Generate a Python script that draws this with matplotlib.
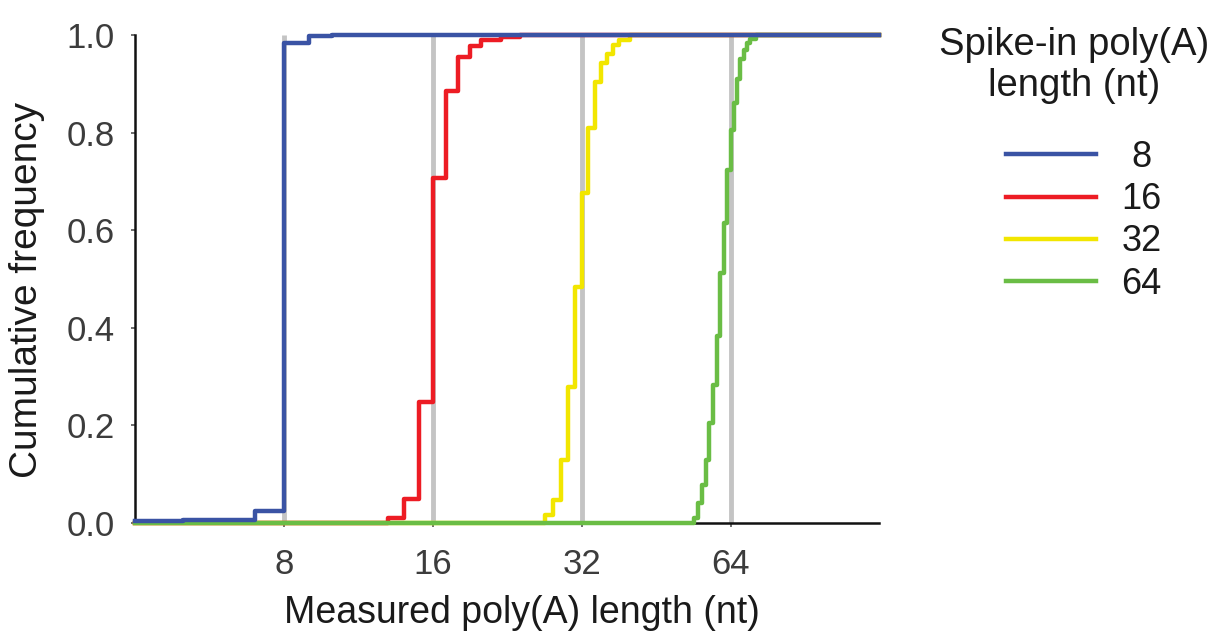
import matplotlib.pyplot as plt
from matplotlib.lines import Line2D

plt.rcParams['font.family'] = ['Liberation Sans', 'DejaVu Sans']

# comprimentos medidos (nt) e frequencia acumulada de cada spike-in
len_8 = [4, 5, 6, 7, 8, 9, 10, 128]
freq_8 = [0.003, 0.005, 0.006, 0.023, 0.984, 0.998, 1.0, 1.0]

len_16 = [4, 13, 14, 15, 16, 17, 18, 19, 20, 22, 24, 128]
freq_16 = [0.0, 0.01, 0.049, 0.247, 0.706, 0.885, 0.956, 0.977, 0.99, 0.996, 1.0, 1.0]

len_32 = [4, 27, 28, 29, 30, 31, 32, 33, 34, 35, 36, 37, 38, 40, 128]
freq_32 = [0.0, 0.015, 0.047, 0.129, 0.279, 0.484, 0.676, 0.809, 0.904,
           0.942, 0.962, 0.98, 0.99, 1.0, 1.0]

len_64 = [4, 54, 55, 56, 57, 58, 59, 60, 61, 62, 63, 64, 65, 66, 67, 68,
          69, 70, 72, 128]
freq_64 = [0.0, 0.01, 0.04, 0.078, 0.129, 0.204, 0.283, 0.382, 0.512, 0.614,
           0.723, 0.805, 0.86, 0.911, 0.952, 0.969, 0.983, 0.993, 1.0, 1.0]

spike_ins = [8, 16, 32, 64]
rotulos = ["8", "16", "32", "64"]
cores = ["#3a53a4", "#ed1c24", "#f2e600", "#6abd45"]

fig = plt.figure(figsize=(12.08, 6.39), dpi=100)
ax = fig.add_axes([0.112, 0.182, 0.616, 0.763])

# linhas verticais cinzas nos comprimentos esperados
ax.vlines(spike_ins, 0, 1, color="#c4c4c4", lw=3.5, zorder=1)

series = {
    "8": (len_8, freq_8),
    "16": (len_16, freq_16),
    "32": (len_32, freq_32),
    "64": (len_64, freq_64),
}
# ordem de desenho: azul por cima de todas
ordem = ["32", "16", "64", "8"]
for z, rot in enumerate(ordem):
    i = rotulos.index(rot)
    x, y = series[rot]
    ax.step(x, y, where="post", color=cores[i], lw=3.2, zorder=3 + z,
            clip_on=False)

ax.set_xscale("log", base=2)
ax.set_xlim(4, 128)
ax.set_ylim(0, 1.0)
ax.set_xticks(spike_ins)
ax.set_xticklabels(rotulos)
ax.minorticks_off()
ax.set_yticks([0, 0.2, 0.4, 0.6, 0.8, 1.0])
ax.set_yticklabels(["0.0", "0.2", "0.4", "0.6", "0.8", "1.0"])

for lado in ["top", "right"]:
    ax.spines[lado].set_visible(False)
for lado in ["left", "bottom"]:
    ax.spines[lado].set_linewidth(1.8)
    ax.spines[lado].set_color("#111111")

ax.tick_params(axis="both", direction="out", length=3, width=1.2,
               labelsize=25, labelcolor="#3c3c3c", colors="#555555")
ax.tick_params(axis="y", pad=12)
ax.tick_params(axis="x", pad=15)

ax.set_xlabel("Measured poly(A) length (nt)", fontsize=27, color="#1a1a1a")
ax.set_ylabel("Cumulative frequency", fontsize=28, color="#1a1a1a")
ax.xaxis.set_label_coords(0.52, -0.149)
ax.yaxis.set_label_coords(-0.122, 0.477)

# legenda
fig.text(0.889, 0.957, "Spike-in poly(A)\nlength (nt)", ha="center", va="top",
         fontsize=27.5, color="#1a1a1a", linespacing=1.15)
handles = [Line2D([0], [0], color=c, lw=3.2) for c in cores]
leg_rotulos = [" 8", "16", "32", "64"]
leg = fig.legend(handles, leg_rotulos, loc="upper left",
                 bbox_to_anchor=(0.8328, 0.781), frameon=False, fontsize=26,
                 handlelength=2.5, handletextpad=0.7, labelspacing=0.2,
                 borderpad=0, borderaxespad=0)
for t in leg.get_texts():
    t.set_color("#1a1a1a")

fig.savefig("out.png", dpi=100)
